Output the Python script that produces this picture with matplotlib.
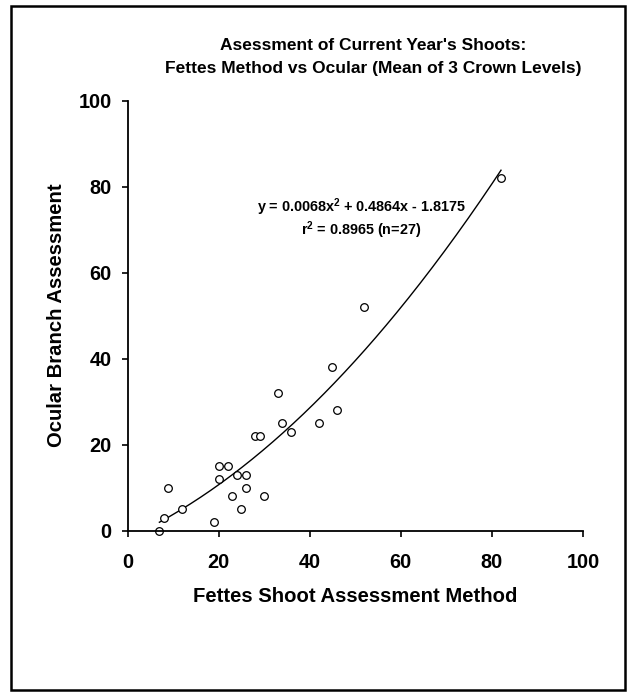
import numpy as np
import matplotlib
matplotlib.use("Agg")
import matplotlib.pyplot as plt
from matplotlib.patches import Rectangle

plt.rcParams['font.family'] = ['Liberation Sans', 'DejaVu Sans']
plt.rcParams['mathtext.fontset'] = 'custom'
plt.rcParams['mathtext.bf'] = 'Liberation Sans:bold'
plt.rcParams['mathtext.rm'] = 'Liberation Sans'

# data (Fettes method vs ocular assessment)
fettes = [7, 8, 9, 12, 19, 20, 20, 22, 23, 24, 25, 26, 26, 28, 29, 30,
          33, 34, 36, 42, 45, 46, 52, 82]
ocular = [0, 3, 10, 5, 2, 15, 12, 15, 8, 13, 5, 13, 10, 22, 22, 8,
          32, 25, 23, 25, 38, 28, 52, 82]

# quadratic fit shown on the chart
coef = [0.0068, 0.4864, -1.8175]
fit_range = [7, 82]

title_lines = ["Asessment of Current Year's Shoots:",
               "Fettes Method vs Ocular (Mean of 3 Crown Levels)"]
ticks = [0, 20, 40, 60, 80, 100]

fig = plt.figure(figsize=(6.32, 6.96), dpi=100)
ax = fig.add_axes([127.5/632, 1 - 530.5/696, 455.5/632, 430/696])

xs = np.linspace(fit_range[0], fit_range[1], 200)
ax.plot(xs, np.polyval(coef, xs), color='black', lw=1)
ax.plot(fettes, ocular, 'o', ms=5.5, mfc='white', mec='black', mew=0.9, clip_on=False)

ax.set_xlim(0, 100)
ax.set_ylim(0, 100)
ax.set_xticks(ticks)
ax.set_yticks(ticks)
for s in ['top', 'right']:
    ax.spines[s].set_visible(False)
for s in ['left', 'bottom']:
    ax.spines[s].set_linewidth(1.3)
ax.tick_params(direction='out', length=4.5, width=1.2, labelsize=14.3)
ax.tick_params(axis='x', pad=11.5)
ax.tick_params(axis='y', pad=7)
for lab in ax.get_xticklabels() + ax.get_yticklabels():
    lab.set_fontweight('bold')

ax.set_xlabel("Fettes Shoot Assessment Method", fontsize=14.6, fontweight='bold', labelpad=11)
ax.set_ylabel("Ocular Branch Assessment", fontsize=14.6, fontweight='bold', labelpad=9)

ax.text(51.3, 75.3, "y = 0.0068x$^{\\mathbf{2}}$ + 0.4864x - 1.8175", ha='center', va='center',
        fontsize=10.4, fontweight='bold')
ax.text(51.3, 69.9, "r$^{\\mathbf{2}}$ = 0.8965 (n=27)", ha='center', va='center',
        fontsize=10.4, fontweight='bold')

fig.text(373/632, 1 - 45/696, title_lines[0], ha='center', va='center', fontsize=12.5, fontweight='bold')
fig.text(373/632, 1 - 68.5/696, title_lines[1], ha='center', va='center', fontsize=12.5, fontweight='bold')

fig.patches.append(Rectangle((11/632, 1 - 690/696), 614/632, 684/696, transform=fig.transFigure,
                             fill=False, edgecolor='black', lw=1.8))

fig.savefig("out.png", dpi=100)
